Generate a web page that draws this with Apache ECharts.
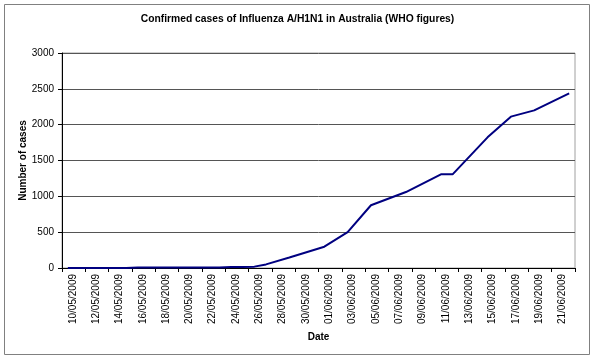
<!DOCTYPE html>
<html>
<head>
<meta charset="utf-8">
<script src="https://cdn.jsdelivr.net/npm/echarts@6/dist/echarts.min.js"></script>
<style>
html,body{margin:0;padding:0;background:#fff;}
#c{width:595px;height:359px;}
</style>
</head>
<body>
<div id="c"></div>
<script>
var titleText = 'Confirmed cases of Influenza A/H1N1 in Australia (WHO figures)';
var dates = [
  '10/05/2009','11/05/2009','12/05/2009','13/05/2009','14/05/2009','15/05/2009',
  '16/05/2009','17/05/2009','18/05/2009','19/05/2009','20/05/2009','21/05/2009',
  '22/05/2009','23/05/2009','24/05/2009','25/05/2009','26/05/2009','27/05/2009',
  '28/05/2009','29/05/2009','30/05/2009','31/05/2009','01/06/2009','02/06/2009',
  '03/06/2009','04/06/2009','05/06/2009','06/06/2009','07/06/2009','08/06/2009',
  '09/06/2009','10/06/2009','11/06/2009','12/06/2009','13/06/2009','14/06/2009',
  '15/06/2009','16/06/2009','17/06/2009','18/06/2009','19/06/2009','20/06/2009',
  '21/06/2009','22/06/2009'
];
// cumulative confirmed cases (null = no report that day, line joins reports)
var cases = [
  1, 1, 1, 1, 1, 1,
  6, 6, 6, 6, 6, 6,
  6, 6, 15, 15, 19, 50,
  null, 147, null, null, 297, null,
  501, null, 876, null, null, 1060,
  null, null, 1307, 1307, null, null,
  1823, null, 2112, null, 2199, null,
  null, 2436
];
var yMin = 0, yMax = 3000, yStep = 500;

var chart = echarts.init(document.getElementById('c'), null, {renderer: 'canvas'});
var font = 'Liberation Sans, Arial, sans-serif';
chart.setOption({
  backgroundColor: '#fff',
  animation: false,
  textStyle: {fontFamily: font},
  title: {
    text: titleText,
    left: 'center',
    top: 9,
    textStyle: {fontSize: 10.3, fontWeight: 'bold', color: '#000', fontFamily: font}
  },
  graphic: [{
    type: 'rect',
    shape: {x: 4.5, y: 4.5, width: 585, height: 350},
    style: {fill: null, stroke: '#808080', lineWidth: 1},
    silent: true
  }],
  grid: {
    left: 62, right: 20, top: 53, bottom: 91,
    show: true, borderColor: '#a0a0a0', borderWidth: 1, backgroundColor: 'transparent'
  },
  xAxis: {
    type: 'category',
    data: dates,
    boundaryGap: true,
    name: 'Date',
    nameLocation: 'middle',
    nameGap: 64,
    nameMoveOverlap: false,
    nameTextStyle: {fontSize: 10, fontWeight: 'bold', color: '#000', fontFamily: font},
    axisLine: {lineStyle: {color: '#000', width: 1}},
    axisTick: {show: true, interval: 1, length: 4, lineStyle: {color: '#000'}},
    axisLabel: {interval: 1, rotate: 90, margin: 6, fontSize: 10, color: '#000', fontFamily: font, verticalAlign: 'top'},
    splitLine: {show: false}
  },
  yAxis: {
    type: 'value',
    min: yMin, max: yMax, interval: yStep,
    name: 'Number of cases',
    nameLocation: 'middle',
    nameGap: 34,
    nameMoveOverlap: false,
    nameRotate: 90,
    nameTextStyle: {fontSize: 10, fontWeight: 'bold', color: '#000', fontFamily: font},
    axisLine: {show: true, lineStyle: {color: '#000', width: 1}},
    axisTick: {show: true, length: 4, lineStyle: {color: '#000'}},
    axisLabel: {margin: 8, fontSize: 10, color: '#000', fontFamily: font,
      formatter: function (v) { return String(v); }},
    splitLine: {show: true, lineStyle: {color: '#555', width: 1}}
  },
  series: [{
    type: 'line',
    data: cases,
    connectNulls: true,
    showSymbol: false,
    symbol: 'none',
    lineStyle: {color: '#000080', width: 2},
    itemStyle: {color: '#000080'}
  }]
});
</script>
</body>
</html>
